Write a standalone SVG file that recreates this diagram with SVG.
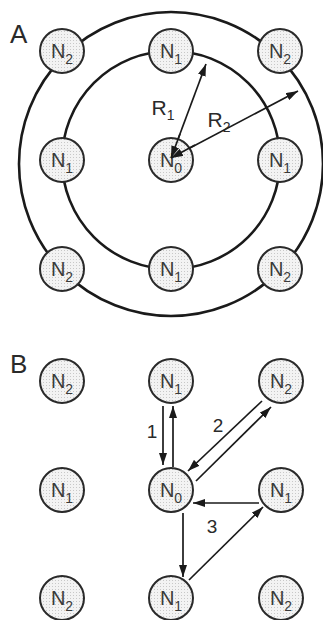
<svg xmlns="http://www.w3.org/2000/svg" width="323" height="620" viewBox="0 0 323 620">
  <defs>
    <pattern id="stipple" width="3" height="3" patternUnits="userSpaceOnUse">
      <rect width="3" height="3" fill="#f3f3f3"/>
      <rect x="1" y="1" width="1" height="1" fill="#c8c8c8"/>
    </pattern>
    <marker id="head" viewBox="0 0 12 8" refX="12" refY="4" markerWidth="12" markerHeight="8" markerUnits="userSpaceOnUse" orient="auto">
      <path d="M0,0 L12,4 L0,8 Z" fill="#1a1a1a"/>
    </marker>
    <marker id="tail" viewBox="0 0 12 8" refX="0" refY="4" markerWidth="12" markerHeight="8" markerUnits="userSpaceOnUse" orient="auto">
      <path d="M12,0 L0,4 L12,8 Z" fill="#1a1a1a"/>
    </marker>
  </defs>
  <style>
    .ring { fill: none; stroke: #1a1a1a; stroke-width: 2.6; }
    .node circle { fill: url(#stipple); stroke: #2a2a2a; stroke-width: 2; }
    .lbl { font-family: "Liberation Sans", Arial, sans-serif; font-size: 20px; fill: #3a3a3a; text-anchor: middle; }
    .sub { font-size: 14px; }
    .rl { font-size: 21px; fill: #2a2a2a; }
    .panel { font-family: "Liberation Sans", Arial, sans-serif; font-size: 26px; fill: #2a2a2a; }
    .num { font-family: "Liberation Sans", Arial, sans-serif; font-size: 19px; fill: #2a2a2a; text-anchor: middle; }
    .arrow { stroke: #1a1a1a; stroke-width: 1.7; fill: none; marker-end: url(#head); }
  </style>

  <!-- panel letters -->
  <text class="panel" x="10" y="43">A</text>
  <text class="panel" x="10" y="373">B</text>

  <!-- panel A: neighbourhood rings -->
  <circle class="ring" cx="171" cy="164" r="152"/>
  <circle class="ring" cx="171" cy="160" r="109"/>

  <g id="connectors">
    <!-- radius arrows in panel A -->
    <line class="arrow" x1="171" y1="158" x2="206" y2="64" marker-start="url(#tail)"/>
    <line class="arrow" x1="171" y1="158" x2="298" y2="91" marker-start="url(#tail)"/>
    <!-- step 1 -->
    <line class="arrow" x1="163" y1="406" x2="163" y2="465"/>
    <line class="arrow" x1="173" y1="467" x2="173" y2="406"/>
    <!-- step 2 -->
    <line class="arrow" x1="262" y1="401" x2="188" y2="471"/>
    <line class="arrow" x1="196" y1="481" x2="271" y2="407"/>
    <!-- step 3 -->
    <line class="arrow" x1="259" y1="503" x2="193" y2="503"/>
    <line class="arrow" x1="183" y1="513" x2="183" y2="577"/>
    <line class="arrow" x1="189" y1="580" x2="263" y2="507"/>
  </g>

  <!-- connector labels -->
  <text class="lbl rl" x="163" y="115">R<tspan class="sub" dy="5">1</tspan></text>
  <text class="lbl rl" x="219" y="127">R<tspan class="sub" dy="5">2</tspan></text>
  <text class="num" x="152" y="438">1</text>
  <text class="num" x="218" y="432">2</text>
  <text class="num" x="212" y="533">3</text>

  <!-- panel A nodes -->
  <g id="a-n2-tl" class="node"><circle cx="62" cy="51" r="22"/><text class="lbl" x="62" y="58">N<tspan class="sub" dy="6">2</tspan></text></g>
  <g id="a-n1-t" class="node"><circle cx="171" cy="51" r="22"/><text class="lbl" x="171" y="58">N<tspan class="sub" dy="6">1</tspan></text></g>
  <g id="a-n2-tr" class="node"><circle cx="280" cy="51" r="22"/><text class="lbl" x="280" y="58">N<tspan class="sub" dy="6">2</tspan></text></g>
  <g id="a-n1-l" class="node"><circle cx="62" cy="160" r="22"/><text class="lbl" x="62" y="167">N<tspan class="sub" dy="6">1</tspan></text></g>
  <g id="a-n1-r" class="node"><circle cx="280" cy="160" r="22"/><text class="lbl" x="280" y="167">N<tspan class="sub" dy="6">1</tspan></text></g>
  <g id="a-n2-bl" class="node"><circle cx="62" cy="269" r="22"/><text class="lbl" x="62" y="276">N<tspan class="sub" dy="6">2</tspan></text></g>
  <g id="a-n1-b" class="node"><circle cx="171" cy="269" r="22"/><text class="lbl" x="171" y="276">N<tspan class="sub" dy="6">1</tspan></text></g>
  <g id="a-n2-br" class="node"><circle cx="280" cy="269" r="22"/><text class="lbl" x="280" y="276">N<tspan class="sub" dy="6">2</tspan></text></g>
  <g id="a-n0" class="node"><circle cx="171" cy="160" r="22"/><text class="lbl" x="171" y="167">N<tspan class="sub" dy="6">0</tspan></text></g>

  <!-- radius arrow origin drawn over the centre node -->
  <g id="a-origin">
    <line class="arrow" x1="171" y1="158" x2="180" y2="134" marker-start="url(#tail)" style="marker-end:none"/>
    <line class="arrow" x1="171" y1="158" x2="195" y2="145" marker-start="url(#tail)" style="marker-end:none"/>
  </g>

  <!-- panel B nodes -->
  <g id="b-n2-tl" class="node"><circle cx="62" cy="381" r="22"/><text class="lbl" x="62" y="388">N<tspan class="sub" dy="6">2</tspan></text></g>
  <g id="b-n1-t" class="node"><circle cx="171" cy="381" r="22"/><text class="lbl" x="171" y="388">N<tspan class="sub" dy="6">1</tspan></text></g>
  <g id="b-n2-tr" class="node"><circle cx="281" cy="381" r="22"/><text class="lbl" x="281" y="388">N<tspan class="sub" dy="6">2</tspan></text></g>
  <g id="b-n1-l" class="node"><circle cx="62" cy="490" r="22"/><text class="lbl" x="62" y="497">N<tspan class="sub" dy="6">1</tspan></text></g>
  <g id="b-n0" class="node"><circle cx="171" cy="490" r="22"/><text class="lbl" x="171" y="497">N<tspan class="sub" dy="6">0</tspan></text></g>
  <g id="b-n1-r" class="node"><circle cx="281" cy="490" r="22"/><text class="lbl" x="281" y="497">N<tspan class="sub" dy="6">1</tspan></text></g>
  <g id="b-n2-bl" class="node"><circle cx="62" cy="598" r="22"/><text class="lbl" x="62" y="605">N<tspan class="sub" dy="6">2</tspan></text></g>
  <g id="b-n1-b" class="node"><circle cx="171" cy="598" r="22"/><text class="lbl" x="171" y="605">N<tspan class="sub" dy="6">1</tspan></text></g>
  <g id="b-n2-br" class="node"><circle cx="281" cy="598" r="22"/><text class="lbl" x="281" y="605">N<tspan class="sub" dy="6">2</tspan></text></g>
</svg>
